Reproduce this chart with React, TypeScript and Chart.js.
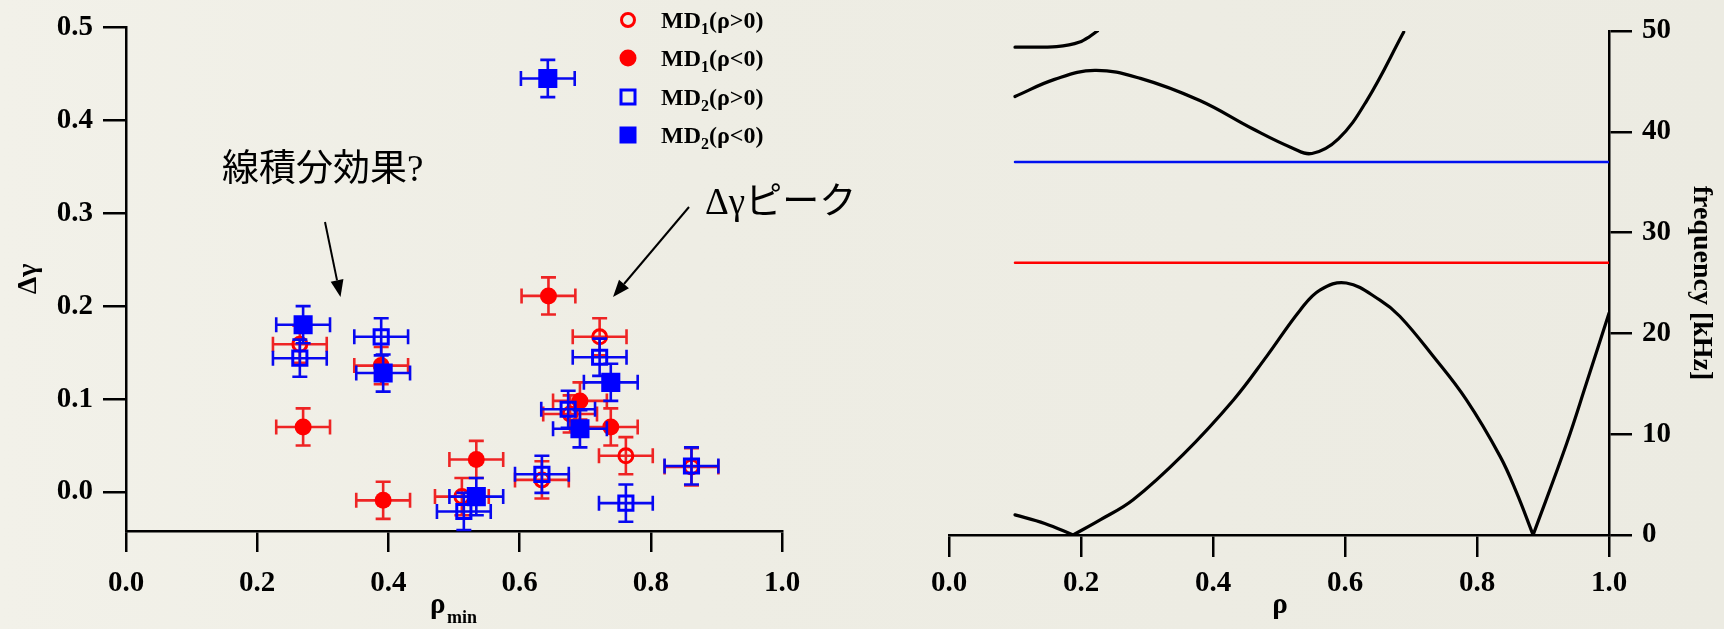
import React, { useEffect, useRef } from 'react';
import { Chart, registerables } from 'chart.js';
Chart.register(...registerables);

// ---------- Left panel data ----------
const rhoTicks = [0, 0.2, 0.4, 0.6, 0.8, 1.0];
const dgTicks = [0, 0.1, 0.2, 0.3, 0.4, 0.5];
const XERR = 0.041;
const YERR = 0.02;

// MD1 (rho>0): red open circles
const md1PosX = [0.265, 0.722, 0.677, 0.762, 0.862, 0.634, 0.512];
const md1PosY = [0.159, 0.167, 0.084, 0.039, 0.027, 0.013, -0.005];
// MD1 (rho<0): red filled circles
const md1NegX = [0.270, 0.392, 0.389, 0.644, 0.692, 0.739, 0.534];
const md1NegY = [0.070, -0.009, 0.136, 0.211, 0.098, 0.070, 0.035];
// MD2 (rho>0): blue open squares
const md2PosX = [0.265, 0.389, 0.722, 0.674, 0.862, 0.762, 0.634, 0.515];
const md2PosY = [0.144, 0.167, 0.145, 0.089, 0.028, -0.012, 0.019, -0.021];
// MD2 (rho<0): blue filled squares
const md2NegX = [0.270, 0.392, 0.643, 0.739, 0.692, 0.534];
const md2NegY = [0.180, 0.128, 0.445, 0.118, 0.068, -0.005];

const legendLabels = ['MD', 'MD', 'MD', 'MD'];
const legendSubs = ['1', '1', '2', '2'];
const legendTails = ['(ρ>0)', '(ρ<0)', '(ρ>0)', '(ρ<0)'];

// ---------- Right panel data ----------
const freqTicks = [0, 10, 20, 30, 40, 50];
const rhoA = [0.10, 0.13, 0.163, 0.198, 0.212, 0.225];
const fA = [48.4, 48.4, 48.45, 48.9, 49.4, 50.0];
const rhoB = [0.10, 0.16, 0.221, 0.29, 0.38, 0.46, 0.52, 0.55, 0.59, 0.633, 0.689];
const fB = [43.5, 45.2, 46.1, 45.3, 43.1, 40.3, 38.4, 37.85, 39.3, 43.1, 49.9];
const rhoC1 = [0.10, 0.145, 0.188];
const fC1 = [2.0, 1.15, 0.0];
const rhoC2 = [0.188, 0.229, 0.279, 0.355, 0.431, 0.481, 0.532, 0.562, 0.602, 0.653, 0.683, 0.734, 0.784, 0.835, 0.86, 0.885];
const fC2 = [0.0, 1.5, 3.5, 8.0, 13.4, 17.7, 22.3, 24.3, 25.0, 23.3, 21.7, 17.7, 13.4, 7.8, 4.2, 0.0];
const rhoD = [0.885, 0.936, 0.966, 1.0];
const fD = [0.0, 9.1, 15.1, 22.0];
const rhoLine = [0.1, 1.0];
const fBlue = [37.0, 37.0];
const fRed = [27.0, 27.0];

const SERIF = "'Liberation Serif', 'Times New Roman', serif";
const MIXED = "'Liberation Serif', 'Noto Sans CJK JP', sans-serif";
const RED = '#FF0000';
const BLUE = '#0000FF';

const pts = (xs: number[], ys: number[]) => xs.map((x, i) => ({ x, y: ys[i] }));

function drawArrow(ctx: CanvasRenderingContext2D, x0: number, y0: number, x1: number, y1: number) {
  const ang = Math.atan2(y1 - y0, x1 - x0);
  const hl = 17, hw = 6.5;
  const bx = x1 - hl * Math.cos(ang), by = y1 - hl * Math.sin(ang);
  ctx.save();
  ctx.strokeStyle = '#000';
  ctx.fillStyle = '#000';
  ctx.lineWidth = 2;
  ctx.beginPath();
  ctx.moveTo(x0, y0);
  ctx.lineTo(bx, by);
  ctx.stroke();
  ctx.beginPath();
  ctx.moveTo(x1, y1);
  ctx.lineTo(bx + hw * Math.sin(ang), by - hw * Math.cos(ang));
  ctx.lineTo(bx - hw * Math.sin(ang), by + hw * Math.cos(ang));
  ctx.closePath();
  ctx.fill();
  ctx.restore();
}

const errorBars = {
  id: 'errorBars',
  beforeDatasetDraw(chart: any, args: any) {
    const ds = chart.data.datasets[args.index];
    const xs = chart.scales.x, ys = chart.scales.y;
    const ctx = chart.ctx;
    const cap = 7.5;
    ctx.save();
    ctx.strokeStyle = ds.errColor;
    ctx.lineWidth = 2.6;
    ds.data.forEach((p: any) => {
      const cx = xs.getPixelForValue(p.x), cy = ys.getPixelForValue(p.y);
      const x0 = xs.getPixelForValue(p.x - XERR), x1 = xs.getPixelForValue(p.x + XERR);
      const y0 = ys.getPixelForValue(p.y - YERR), y1 = ys.getPixelForValue(p.y + YERR);
      ctx.beginPath();
      ctx.moveTo(x0, cy); ctx.lineTo(x1, cy);
      ctx.moveTo(x0, cy - cap); ctx.lineTo(x0, cy + cap);
      ctx.moveTo(x1, cy - cap); ctx.lineTo(x1, cy + cap);
      ctx.moveTo(cx, y0); ctx.lineTo(cx, y1);
      ctx.moveTo(cx - cap, y0); ctx.lineTo(cx + cap, y0);
      ctx.moveTo(cx - cap, y1); ctx.lineTo(cx + cap, y1);
      ctx.stroke();
    });
    ctx.restore();
  },
};

const leftDecor = {
  id: 'leftDecor',
  afterDraw(chart: any) {
    const ctx = chart.ctx as CanvasRenderingContext2D;
    ctx.save();
    ctx.fillStyle = '#000';
    // y title
    ctx.save();
    ctx.translate(29, 279);
    ctx.rotate(-Math.PI / 2);
    ctx.font = `bold 28px ${SERIF}`;
    ctx.textAlign = 'center';
    ctx.textBaseline = 'middle';
    ctx.fillText('Δγ', 0, 0);
    ctx.restore();
    // x title rho_min
    ctx.textAlign = 'left';
    ctx.textBaseline = 'alphabetic';
    ctx.font = `bold 29px ${SERIF}`;
    ctx.fillText('ρ', 430, 613);
    ctx.font = `bold 18px ${SERIF}`;
    ctx.fillText('min', 447, 623);
    // legend
    const rows = [20, 58, 97, 135];
    rows.forEach((ry, i) => {
      const mx = 628;
      ctx.save();
      if (i === 0) {
        ctx.strokeStyle = RED; ctx.lineWidth = 3;
        ctx.beginPath(); ctx.arc(mx, ry, 6.5, 0, Math.PI * 2); ctx.stroke();
      } else if (i === 1) {
        ctx.fillStyle = RED;
        ctx.beginPath(); ctx.arc(mx, ry, 8.5, 0, Math.PI * 2); ctx.fill();
      } else if (i === 2) {
        ctx.strokeStyle = BLUE; ctx.lineWidth = 3;
        ctx.strokeRect(mx - 7, ry - 7, 14, 14);
      } else {
        ctx.fillStyle = BLUE;
        ctx.fillRect(mx - 8.5, ry - 8.5, 17, 17);
      }
      ctx.restore();
      let tx = 661;
      ctx.font = `bold 24px ${SERIF}`;
      ctx.fillText(legendLabels[i], tx, ry + 8);
      tx += ctx.measureText(legendLabels[i]).width;
      ctx.font = `bold 16px ${SERIF}`;
      ctx.fillText(legendSubs[i], tx, ry + 14);
      tx += ctx.measureText(legendSubs[i]).width;
      ctx.font = `bold 24px ${SERIF}`;
      ctx.fillText(legendTails[i], tx, ry + 8);
    });
    // annotations
    ctx.font = `37px ${MIXED}`;
    ctx.textBaseline = 'middle';
    ctx.fillText('線積分効果?', 222, 171);
    ctx.fillText('Δγピーク', 705, 204);
    drawArrow(ctx, 325, 222, 340.5, 297);
    drawArrow(ctx, 689, 207, 613, 297);
    ctx.restore();
  },
};

const rightDecor = {
  id: 'rightDecor',
  afterDraw(chart: any) {
    const ctx = chart.ctx as CanvasRenderingContext2D;
    ctx.save();
    ctx.fillStyle = '#000';
    ctx.font = `bold 29px ${SERIF}`;
    ctx.textAlign = 'center';
    ctx.textBaseline = 'alphabetic';
    ctx.fillText('ρ', 418, 613);
    ctx.font = `bold 28px ${SERIF}`;
    ctx.translate(839, 283);
    ctx.rotate(Math.PI / 2);
    ctx.textBaseline = 'middle';
    ctx.fillText('frequency [kHz]', 0, 0);
    ctx.restore();
  },
};

const tickFont = { family: SERIF, weight: 'bold' as const, size: 29 };

export default function App() {
  const leftRef = useRef<HTMLCanvasElement>(null);
  const rightRef = useRef<HTMLCanvasElement>(null);

  useEffect(() => {
    const left = new Chart(leftRef.current!, {
      type: 'scatter',
      data: {
        datasets: [
          {
            label: 'MD1(ρ>0)', data: pts(md1PosX, md1PosY), order: 4,
            pointStyle: 'circle', pointRadius: 7, borderWidth: 3,
            borderColor: RED, backgroundColor: 'rgba(0,0,0,0)', errColor: '#EE2424',
          } as any,
          {
            label: 'MD1(ρ<0)', data: pts(md1NegX, md1NegY), order: 3,
            pointStyle: 'circle', pointRadius: 8.5, borderWidth: 0,
            borderColor: RED, backgroundColor: RED, errColor: '#EE2424',
          } as any,
          {
            label: 'MD2(ρ>0)', data: pts(md2PosX, md2PosY), order: 2,
            pointStyle: 'rect', pointRadius: 10, borderWidth: 3,
            borderColor: BLUE, backgroundColor: 'rgba(0,0,0,0)', errColor: '#0808F0',
          } as any,
          {
            label: 'MD2(ρ<0)', data: pts(md2NegX, md2NegY), order: 1,
            pointStyle: 'rect', pointRadius: 13.5, borderWidth: 0,
            borderColor: BLUE, backgroundColor: BLUE, errColor: '#0808F0',
          } as any,
        ],
      },
      options: {
        animation: false,
        responsive: false,
        devicePixelRatio: 1,
        layout: { padding: { left: 0, top: 25, right: 80, bottom: 0 } },
        plugins: { legend: { display: false }, tooltip: { enabled: false } },
        scales: {
          x: {
            type: 'linear', min: 0, max: 1,
            afterBuildTicks: (s: any) => { s.ticks = rhoTicks.map((v) => ({ value: v })); },
            afterFit: (s: any) => { s.height = 98; },
            grid: { drawOnChartArea: false, color: '#000', lineWidth: 2.5, tickLength: 21 },
            border: { display: true, color: '#000', width: 2.5 },
            ticks: { color: '#000', font: tickFont, padding: 14, maxRotation: 0, callback: (v: any) => Number(v).toFixed(1) },
          },
          y: {
            type: 'linear', min: -0.042, max: 0.5,
            afterBuildTicks: (s: any) => { s.ticks = dgTicks.map((v) => ({ value: v })); },
            afterFit: (s: any) => { s.width = 126; },
            grid: { drawOnChartArea: false, color: '#000', lineWidth: 2.5, tickLength: 23 },
            border: { display: true, color: '#000', width: 2.5 },
            ticks: { color: '#000', font: tickFont, padding: 10, callback: (v: any) => Number(v).toFixed(1) },
          },
        },
      },
      plugins: [errorBars, leftDecor],
    } as any);

    const lineDs = (xs: number[], ys: number[], color: string, w: number, mode = 'default') => ({
      data: pts(xs, ys), borderColor: color, borderWidth: w, pointRadius: 0,
      fill: false, tension: 0.4, cubicInterpolationMode: mode, showLine: true,
      borderCapStyle: 'round', borderJoinStyle: 'round',
    });

    const right = new Chart(rightRef.current!, {
      type: 'line',
      data: {
        datasets: [
          lineDs(rhoLine, fBlue, '#0010F0', 2.5),
          lineDs(rhoLine, fRed, '#FF0000', 2.5),
          lineDs(rhoA, fA, '#000', 3.2, 'monotone'),
          lineDs(rhoB, fB, '#000', 3.2),
          lineDs(rhoC1, fC1, '#000', 3.2),
          lineDs(rhoC2, fC2, '#000', 3.2),
          lineDs(rhoD, fD, '#000', 3.2),
        ],
      },
      options: {
        animation: false,
        responsive: false,
        devicePixelRatio: 1,
        layout: { padding: { left: 87, top: 31, right: 0, bottom: 0 } },
        plugins: { legend: { display: false }, tooltip: { enabled: false } },
        scales: {
          x: {
            type: 'linear', min: 0, max: 1,
            afterBuildTicks: (s: any) => { s.ticks = rhoTicks.map((v) => ({ value: v })); },
            afterFit: (s: any) => { s.height = 94; },
            grid: { drawOnChartArea: false, color: '#000', lineWidth: 2.5, tickLength: 22 },
            border: { display: true, color: '#000', width: 2.5 },
            ticks: { color: '#000', font: tickFont, padding: 9, maxRotation: 0, callback: (v: any) => Number(v).toFixed(1) },
          },
          y: {
            type: 'linear', position: 'right', min: 0, max: 50,
            afterBuildTicks: (s: any) => { s.ticks = freqTicks.map((v) => ({ value: v })); },
            afterFit: (s: any) => { s.width = 115; },
            grid: { drawOnChartArea: false, color: '#000', lineWidth: 2.5, tickLength: 23 },
            border: { display: true, color: '#000', width: 2.5 },
            ticks: { color: '#000', font: tickFont, padding: 10, callback: (v: any) => String(v) },
          },
        },
      },
      plugins: [rightDecor],
    } as any);

    return () => { left.destroy(); right.destroy(); };
  }, []);

  return (
    <div style={{ position: 'fixed', left: 0, top: 0, width: 1724, height: 629, overflow: 'hidden',
      background: 'linear-gradient(90deg, #F2F1E9 0%, #EEEDE4 40%, #ECEBE2 100%)' }}>
      <canvas ref={leftRef} width={862} height={629}
        style={{ position: 'absolute', left: 0, top: 0, width: 862, height: 629 }} />
      <canvas ref={rightRef} width={862} height={629}
        style={{ position: 'absolute', left: 862, top: 0, width: 862, height: 629 }} />
    </div>
  );
}
